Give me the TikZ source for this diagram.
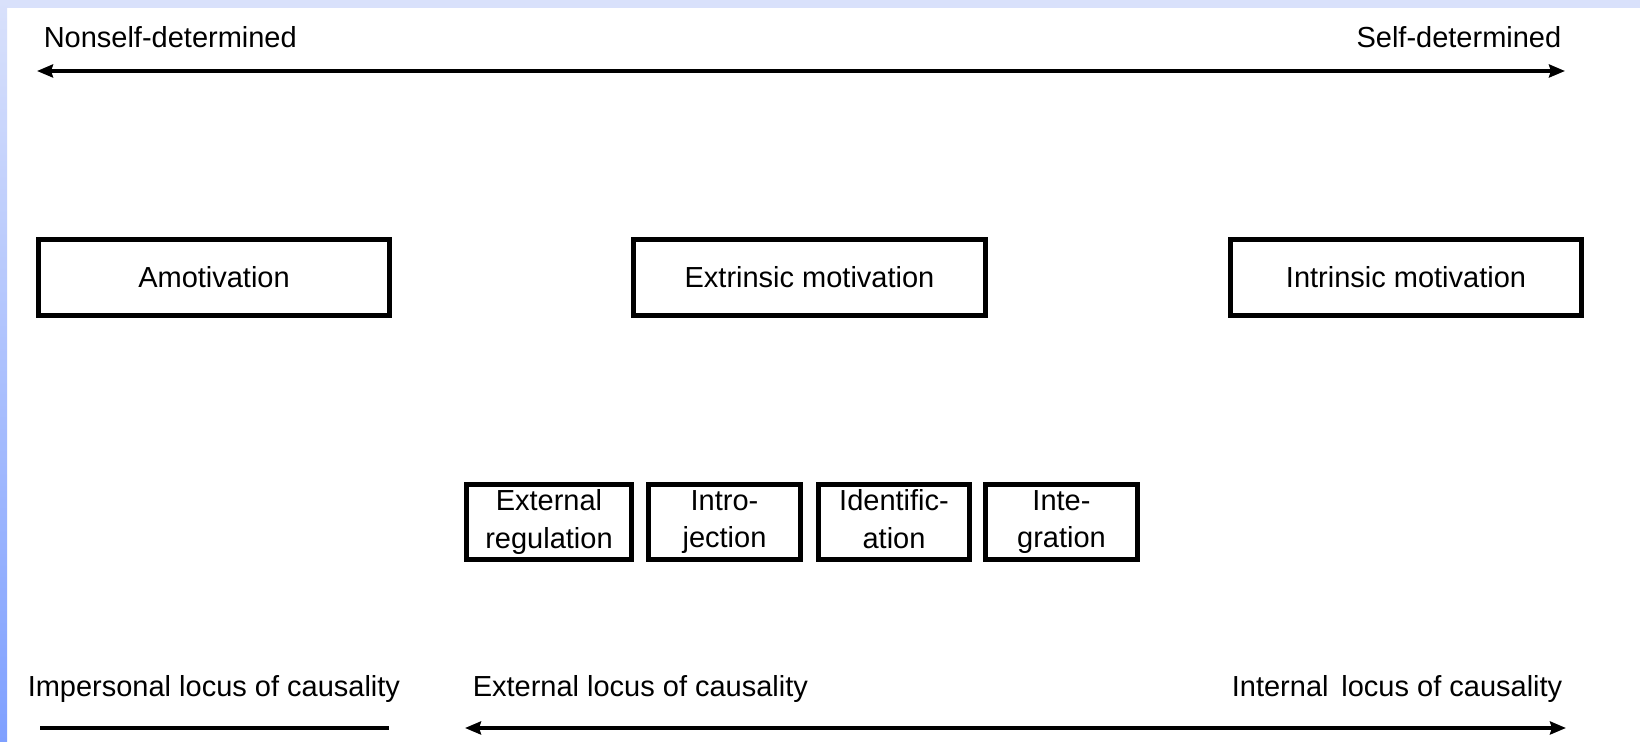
\documentclass[tikz,border=0pt]{standalone}
\usepackage{fontspec}
\setmainfont{Liberation Sans}
\usetikzlibrary{arrows.meta}
\definecolor{paleblue}{HTML}{D9E1FB}
\definecolor{deepblue}{HTML}{7FA0FF}

\begin{document}
\begin{tikzpicture}[x=0.1mm, y=-0.1mm, line width=1pt,
  >={Stealth[length=1.6mm,width=1.3mm,inset=0.2mm]},
  font=\fontsize{8.25pt}{10.6pt}\selectfont,
  motbox/.style={draw, line width=1.3pt, minimum width=35.15mm, minimum height=7.65mm, inner sep=0pt},
  regbox/.style={draw, line width=1.3pt, minimum width=15.15mm, minimum height=7.55mm, inner sep=0pt, align=center,
    execute at begin node={\rule{0pt}{3.6mm}}, execute at end node={\vphantom{g}}},
  lbl/.style={inner sep=0pt}]
  % slide frame
  \useasboundingbox (0,0) rectangle (1640,742);
  \fill[white] (0,0) rectangle (1640,742);
  \fill[paleblue] (0,0) rectangle (1640,8);
  \shade[top color=paleblue, bottom color=deepblue] (0,0) rectangle (7,742);

  % self-determination continuum
  \node [lbl, anchor=base west] (nonself) at (42,48) {Nonself-determined};
  \node [lbl, anchor=base east] (selfdet) at (1563,48) {Self-determined};
  \coordinate (sdl) at (37,71);
  \coordinate (sdr) at (1565,71);
  \draw[<->] (sdl) -- (sdr);

  % types of motivation
  \node [motbox] (amot) at (214,277.5) {Amotivation};
  \node [motbox] (extr) at (809.5,277.5) {Extrinsic motivation};
  \node [motbox] (intr) at (1406,277.5) {Intrinsic motivation};

  % regulatory styles
  \node [regbox, minimum width=16.55mm] (extreg) at (549,522) {External\\regulation};
  \node [regbox] (introj) at (724.5,522) {Intro-\\jection};
  \node [regbox] (ident) at (894,522) {Identific-\\ation};
  \node [regbox] (integ) at (1061.5,522) {Inte-\\gration};

  % perceived locus of causality
  \node [lbl, anchor=base west] (impers) at (26,697) {Impersonal locus of causality};
  \node [lbl, anchor=base west] (extloc) at (471,697) {External locus of causality};
  \node [lbl, anchor=base east] (intloc) at (1564,697) {Internal\ \,locus of causality};
  \coordinate (il) at (40,728);
  \coordinate (ir) at (389,728);
  \coordinate (ll) at (465,728);
  \coordinate (lr) at (1566,728);
  \draw (il) -- (ir);
  \draw[<->] (ll) -- (lr);
\end{tikzpicture}
\end{document}
